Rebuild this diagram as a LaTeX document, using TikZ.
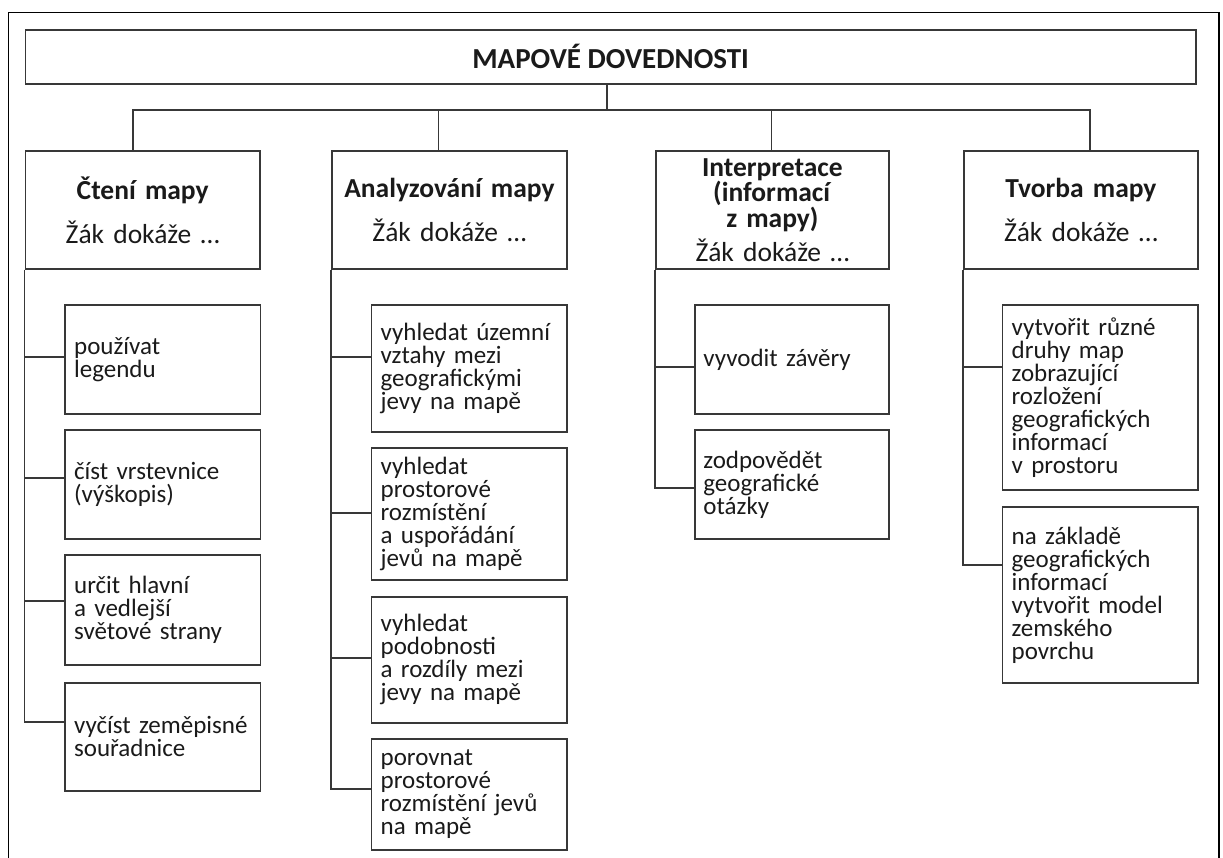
\documentclass[tikz,border=0pt]{standalone}
\usepackage{fontspec}
\setmainfont{Carlito}
\definecolor{ln}{HTML}{383838}
\definecolor{tx}{HTML}{1A1A1A}
\tikzset{
  bx/.style={draw=ln, line width=1.8pt, rectangle, inner sep=0pt, anchor=north west, text=tx},
  chl/.style={bx, align=left, minimum width=195.5pt, text width=177pt,
    font=\fontsize{25}{23}\selectfont},
  lvltwo/.style={bx, align=center, minimum height=118pt, text width=222pt,
    font=\fontsize{27.5}{23.5}\selectfont},
  conn/.style={draw=ln, line width=1.8pt},
  frame/.style={draw=black, line width=1.4pt}
}
\begin{document}
\begin{tikzpicture}[x=1pt,y=-1pt]
\useasboundingbox (0,0) rectangle (1223,857);
\draw[frame] (8.5,860) |- (1219,12.3) -- (1219,860);

% title
\node[bx, minimum width=1170.5pt, minimum height=54pt, align=center,
      font=\fontsize{29}{30}\selectfont\bfseries] (title) at (24.5,29) {MAPOVÉ DOVEDNOSTI};

% level two
\node[lvltwo, minimum width=234.5pt] (b1) at (24.5,150) {\textbf{Čtení mapy}\\[16pt]Žák dokáže …};
\node[lvltwo, minimum width=235pt] (b2) at (331,150) {\textbf{Analyzování mapy}\\[16pt]Žák dokáže …};
\node[lvltwo, minimum width=233pt] (b3) at (655,150) {\textbf{Interpretace}\\\textbf{(informací}\\\textbf{z mapy)}\\[6pt]Žák dokáže …};
\node[lvltwo, minimum width=234pt] (b4) at (963,150) {\textbf{Tvorba mapy}\\[16pt]Žák dokáže …};

\coordinate (hub) at (607,110);
\draw[conn] (title.south -| hub) -- (hub);
\draw[conn] ([xshift=-10pt]b1.north) |- (hub);
\draw[conn] ([xshift=-11pt]b2.north) |- (hub);
\draw[conn] ([xshift=-1pt]b3.north) |- (hub);
\draw[conn] ([xshift=9pt]b4.north) |- (hub);

% column 1
\node[chl, minimum height=109pt] (c11) at (64,304) {používat\\legendu};
\node[chl, minimum height=109pt] (c12) at (64,429) {číst vrstevnice\\(výškopis)};
\node[chl, minimum height=110pt] (c13) at (64,554) {určit hlavní\\a vedlejší\\světové strany};
\node[chl, minimum height=108pt] (c14) at (64,682) {vyčíst zeměpisné\\souřadnice};

% column 2
\node[chl, minimum height=127pt] (c21) at (370.5,304) {vyhledat územní\\vztahy mezi\\geografickými\\jevy na mapě};
\node[chl, minimum height=132pt] (c22) at (370.5,447) {vyhledat\\prostorové\\rozmístění\\a uspořádání\\jevů na mapě};
\node[chl, minimum height=126pt] (c23) at (370.5,596) {vyhledat\\podobnosti\\a rozdíly mezi\\jevy na mapě};
\node[chl, minimum height=111pt] (c24) at (370.5,738) {porovnat\\prostorové\\rozmístění jevů\\na mapě};

% column 3
\node[chl, minimum width=194pt, minimum height=109pt] (c31) at (694,304) {vyvodit závěry};
\node[chl, minimum width=194pt, minimum height=109pt] (c32) at (694,429) {zodpovědět\\geografické\\otázky};

% column 4
\node[chl, minimum height=185pt] (c41) at (1001.5,304) {vytvořit různé\\druhy map\\zobrazující\\rozložení\\geografických\\informací\\v prostoru};
\node[chl, minimum height=176pt] (c42) at (1001.5,506) {na základě\\geografických\\informací\\vytvořit model\\zemského\\povrchu};

% branches
\draw[conn] (b1.south west) |- ([yshift=-53pt]c11.north west);
\draw[conn] (b1.south west) |- ([yshift=-49pt]c12.north west);
\draw[conn] (b1.south west) |- ([yshift=-47pt]c13.north west);
\draw[conn] (b1.south west) |- ([yshift=-40pt]c14.north west);

\draw[conn] (b2.south west) |- ([yshift=-53pt]c21.north west);
\draw[conn] (b2.south west) |- ([yshift=-66pt]c22.north west);
\draw[conn] (b2.south west) |- ([yshift=-62pt]c23.north west);
\draw[conn] (b2.south west) |- ([yshift=-51pt]c24.north west);

\draw[conn] (b3.south west) |- ([yshift=-63pt]c31.north west);
\draw[conn] (b3.south west) |- ([yshift=-59pt]c32.north west);

\draw[conn] (b4.south west) |- ([yshift=-63pt]c41.north west);
\draw[conn] (b4.south west) |- ([yshift=-59pt]c42.north west);
\end{tikzpicture}
\end{document}
